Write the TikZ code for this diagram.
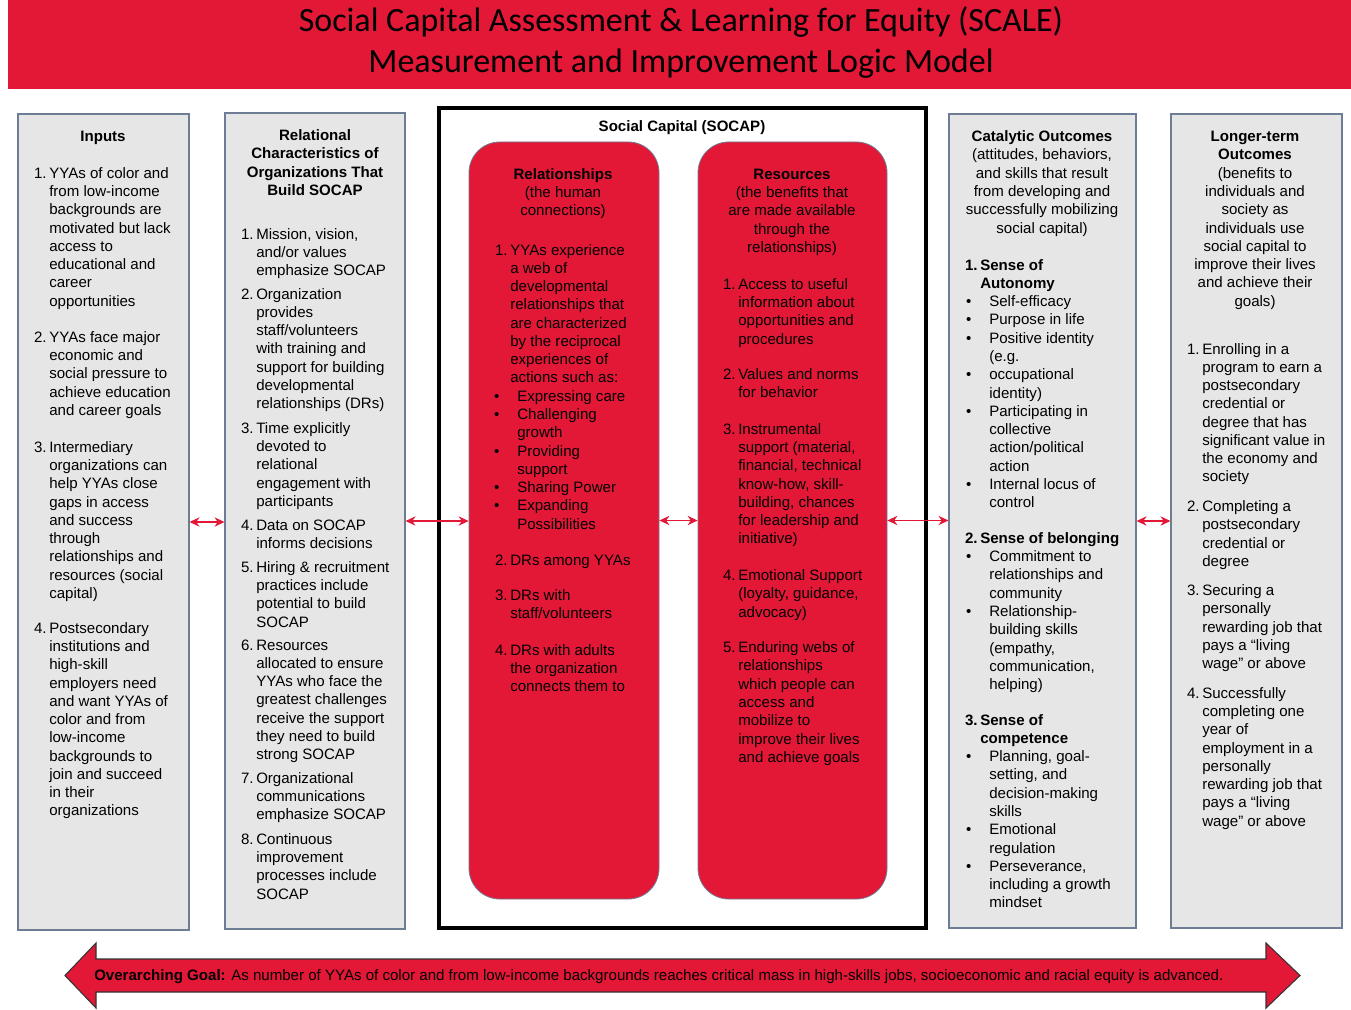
\documentclass[tikz,border=0pt]{standalone}
\usepackage{fontspec}
\setmainfont{Liberation Sans}
\newfontfamily\titlefont{Carlito}
\usetikzlibrary{arrows.meta,fit,positioning}

\definecolor{scalered}{RGB}{227,24,55}
\definecolor{boxgray}{RGB}{230,230,230}
\definecolor{boxline}{RGB}{110,125,150}

% hanging number and bullet
\newcommand\nm[1]{\llap{#1\hskip 2pt}}
\newcommand\bl{\llap{\textbullet\hskip 13.5pt}}
% stacked lines, baseline on the first line
\newcommand\leftlines[1]{\begin{tabular}[t]{@{}l@{}}#1\end{tabular}}
\newcommand\centerlines[1]{\begin{tabular}[t]{@{}c@{}}#1\end{tabular}}

\begin{document}
\begin{tikzpicture}[
        x=0.75pt, y=-0.75pt,
        every node/.style={font=\fontsize{11.3}{13.7}\selectfont},
        colbox/.style={draw=boxline, fill=boxgray, line width=0.8pt, inner sep=0pt},
        redbox/.style={draw=boxline, fill=scalered, line width=0.6pt, rounded corners=23pt, inner sep=0pt},
        txt/.style={anchor=base west, inner sep=0pt},
        txtb/.style={txt, font=\fontsize{11.3}{13.7}\selectfont\bfseries},
        head/.style={anchor=base, inner sep=0pt},
        headb/.style={head, font=\fontsize{11.3}{13.7}\selectfont\bfseries},
        link/.style={{Stealth[length=7.5pt,width=7pt]}-{Stealth[length=7.5pt,width=7pt]}, draw=scalered, line width=0.8pt}
    ]
        \useasboundingbox (0,0) rectangle (1351,1009);

        % Banner
        \node[fill=scalered, inner sep=0pt, fit={(8,0) (1351,89)}] (banner) {};
        \node[head, font=\titlefont\fontsize{25.5}{30.75}\selectfont] (title) at (681,32)
            {\centerlines{Social Capital Assessment \& Learning for Equity (SCALE)\\Measurement and Improvement Logic Model}};

        % Columns
        \node[colbox, fit={(18,114) (189,930)}] (inputs) {};
        \node[colbox, fit={(225,113) (405,929)}] (relational) {};
        \node[draw=black, fill=white, line width=2.4pt, inner sep=0pt, fit={(439,108) (926,928)}] (socap) {};
        \node[redbox, fit={(469,142) (659,899)}] (relationships) {};
        \node[redbox, fit={(698,142) (887,899)}] (resources) {};
        \node[colbox, fit={(949,114) (1136,928)}] (catalytic) {};
        \node[colbox, fit={(1171,114) (1342,928)}] (longer) {};

        % Inputs
        \node[headb] (inputs-t) at (103,141.7) {Inputs};
        \node[txt] (in1) at (49,178.3) {\leftlines{\nm{1.}YYAs of color and\\from low-income\\backgrounds are\\motivated but lack\\access to\\educational and\\career\\opportunities}};
        \node[txt] (in2) at (49,342.3) {\leftlines{\nm{2.}YYAs face major\\economic and\\social pressure to\\achieve education\\and career goals}};
        \node[txt] (in3) at (49,452.3) {\leftlines{\nm{3.}Intermediary\\organizations can\\help YYAs close\\gaps in access\\and success\\through\\relationships and\\resources (social\\capital)}};
        \node[txt] (in4) at (49,633.3) {\leftlines{\nm{4.}Postsecondary\\institutions and\\high-skill\\employers need\\and want YYAs of\\color and from\\low-income\\backgrounds to\\join and succeed\\in their\\organizations}};

        % Relational characteristics
        \node[headb] (rel-t) at (315,140.7) {\centerlines{Relational\\Characteristics of\\Organizations That\\Build SOCAP}};
        \node[txt] (rc1) at (256,239.3) {\leftlines{\nm{1.}Mission, vision,\\and/or values\\emphasize SOCAP}};
        \node[txt] (rc2) at (256,299) {\leftlines{\nm{2.}Organization\\provides\\staff/volunteers\\with training and\\support for building\\developmental\\relationships (DRs)}};
        \node[txt] (rc3) at (256,433.3) {\leftlines{\nm{3.}Time explicitly\\devoted to\\relational\\engagement with\\participants}};
        \node[txt] (rc4) at (256,530) {\leftlines{\nm{4.}Data on SOCAP\\informs decisions}};
        \node[txt] (rc5) at (256,572.3) {\leftlines{\nm{5.}Hiring \& recruitment\\practices include\\potential to build\\SOCAP}};
        \node[txt] (rc6) at (256,650) {\leftlines{\nm{6.}Resources\\allocated to ensure\\YYAs who face the\\greatest challenges\\receive the support\\they need to build\\strong SOCAP}};
        \node[txt] (rc7) at (256,783.3) {\leftlines{\nm{7.}Organizational\\communications\\emphasize SOCAP}};
        \node[txt] (rc8) at (256,844.3) {\leftlines{\nm{8.}Continuous\\improvement\\processes include\\SOCAP}};

        % Social capital
        \node[headb] (socap-t) at (682,131.7) {Social Capital (SOCAP)};

        \node[head] (rs-t) at (563,179.3) {\centerlines{\textbf{Relationships}\\(the human\\connections)}};
        \node[txt] (rs1) at (510,255) {\leftlines{\nm{1.}YYAs experience\\a web of\\developmental\\relationships that\\are characterized\\by the reciprocal\\experiences of\\actions such as:}};
        \node[txt] (rs1b) at (517,401.2) {\leftlines{\bl Expressing care\\\bl Challenging\\growth\\\bl Providing\\support\\\bl Sharing Power\\\bl Expanding\\Possibilities}};
        \node[txt] (rs2) at (510,565) {\nm{2.}DRs among YYAs};
        \node[txt] (rs3) at (510,600.7) {\leftlines{\nm{3.}DRs with\\staff/volunteers}};
        \node[txt] (rs4) at (510,655) {\leftlines{\nm{4.}DRs with adults\\the organization\\connects them to}};

        \node[head] (rsc-t) at (792,179.3) {\centerlines{\textbf{Resources}\\(the benefits that\\are made available\\through the\\relationships)}};
        \node[txt] (rsc1) at (738,289.3) {\leftlines{\nm{1.}Access to useful\\information about\\opportunities and\\procedures}};
        \node[txt] (rsc2) at (738,379.3) {\leftlines{\nm{2.}Values and norms\\for behavior}};
        \node[txt] (rsc3) at (738,434.3) {\leftlines{\nm{3.}Instrumental\\support (material,\\financial, technical\\know-how, skill-\\building, chances\\for leadership and\\initiative)}};
        \node[txt] (rsc4) at (738,580.7) {\leftlines{\nm{4.}Emotional Support\\(loyalty, guidance,\\advocacy)}};
        \node[txt] (rsc5) at (738,652.7) {\leftlines{\nm{5.}Enduring webs of\\relationships\\which people can\\access and\\mobilize to\\improve their lives\\and achieve goals}};

        % Catalytic outcomes
        \node[head] (cat-t) at (1042,141.7) {\centerlines{\textbf{Catalytic Outcomes}\\(attitudes, behaviors,\\and skills that result\\from developing and\\successfully mobilizing\\social capital)}};
        \node[txtb] (cat1) at (980,270) {\leftlines{\nm{1.}Sense of\\Autonomy}};
        \node[txt] (cat1b) at (989,306.7) {\leftlines{\bl Self-efficacy\\\bl Purpose in life\\\bl Positive identity\\(e.g.\\\bl occupational\\identity)\\\bl Participating in\\collective\\action/political\\action\\\bl Internal locus of\\control}};
        \node[txtb] (cat2) at (980,543.3) {\nm{2.}Sense of belonging};
        \node[txt] (cat2b) at (989,561.7) {\leftlines{\bl Commitment to\\relationships and\\community\\\bl Relationship-\\building skills\\(empathy,\\communication,\\helping)}};
        \node[txtb] (cat3) at (980,725) {\leftlines{\nm{3.}Sense of\\competence}};
        \node[txt] (cat3b) at (989,761.7) {\leftlines{\bl Planning, goal-\\setting, and\\decision-making\\skills\\\bl Emotional\\regulation\\\bl Perseverance,\\including a growth\\mindset}};

        % Longer-term outcomes
        \node[head] (lt-t) at (1255,141.7) {\centerlines{\textbf{Longer-term}\\\textbf{Outcomes}\\(benefits to\\individuals and\\society as\\individuals use\\social capital to\\improve their lives\\and achieve their\\goals)}};
        \node[txt] (lt1) at (1202,354) {\leftlines{\nm{1.}Enrolling in a\\program to earn a\\postsecondary\\credential or\\degree that has\\significant value in\\the economy and\\society}};
        \node[txt] (lt2) at (1202,511.7) {\leftlines{\nm{2.}Completing a\\postsecondary\\credential or\\degree}};
        \node[txt] (lt3) at (1202,595.7) {\leftlines{\nm{3.}Securing a\\personally\\rewarding job that\\pays a “living\\wage” or above}};
        \node[txt] (lt4) at (1202,698.3) {\leftlines{\nm{4.}Successfully\\completing one\\year of\\employment in a\\personally\\rewarding job that\\pays a “living\\wage” or above}};

        % Arrows
        \draw[link] (inputs.east) -- (inputs.east -| relational.west);
        \draw[link] (relational.east) -- (relational.east -| relationships.west);
        \draw[link] (relationships.east) -- (relationships.east -| resources.west);
        \draw[link] (resources.east) -- (resources.east -| catalytic.west);
        \draw[link] (catalytic.east) -- (catalytic.east -| longer.west);

        % Overarching goal
        \draw[fill=scalered, draw=black!80, line width=0.8pt]
            (65,975.5) -- (96,943) -- (96,959) -- (1266,959) -- (1266,943) -- (1300,975.5)
            -- (1266,1008) -- (1266,992) -- (96,992) -- (96,1008) -- cycle;
        \node[txt] (goal) at (94,980.7) {\textbf{Overarching Goal:} As number of YYAs of color and from low-income backgrounds reaches critical mass in high-skills jobs, socioeconomic and racial equity is advanced.};
    \end{tikzpicture}
\end{document}
